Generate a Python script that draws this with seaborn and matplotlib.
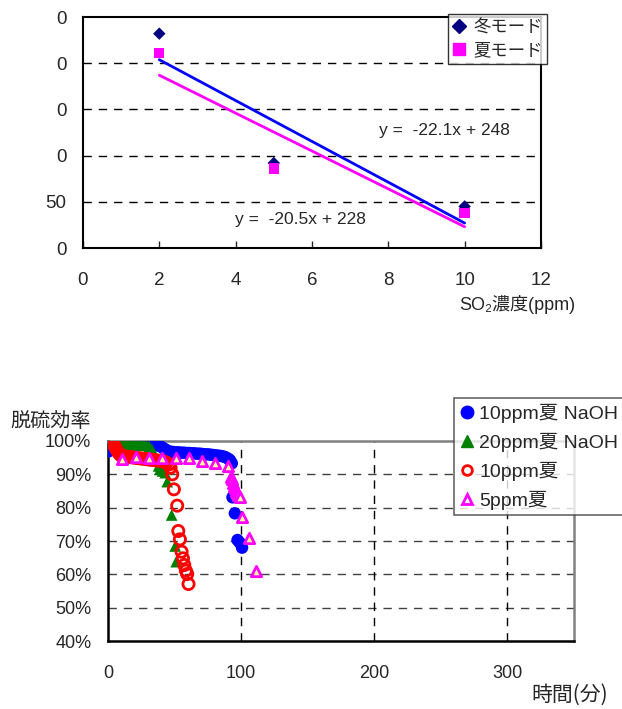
import matplotlib
matplotlib.use("Agg")
import matplotlib.pyplot as plt
from matplotlib.lines import Line2D
import numpy as np
import pandas as pd
import seaborn as sns

# --- upper chart: SO2 concentration vs value ---
so2_ppm = [2, 5, 10]
winter_vals = [232, 92, 45]
summer_vals = [211, 86, 38]
winter_fit = (-22.1, 248)
summer_fit = (-20.5, 228)
fit_range = [2, 10]
upper_yticks = [0, 50, 100, 150, 200, 250]
upper_ylabels = ["0", "50", "0", "0", "0", "0"]
upper_xticks = [0, 2, 4, 6, 8, 10, 12]

# --- lower chart: desulfurization efficiency vs time ---
t_naoh10 = [0, 1, 3, 5, 7, 9, 11, 13, 15, 17, 19, 21, 23, 25, 27, 29, 31, 33, 35,
            37, 39, 41, 43, 45, 47, 49, 51, 53, 55, 57, 59, 61, 63, 65, 67, 69, 71,
            73, 75, 77, 79, 81, 83, 85, 87, 89, 91, 92, 93, 93.5, 95.3, 97.3, 99.0, 100.7]
e_naoh10 = [0.968, 0.998, 0.995, 0.994, 0.993, 0.993, 0.992, 0.992, 0.991, 0.991,
            0.991, 0.990, 0.990, 0.990, 0.990, 0.989, 0.989, 0.989, 0.988, 0.987,
            0.985, 0.980, 0.975, 0.970, 0.968, 0.967, 0.966, 0.966, 0.965, 0.965,
            0.964, 0.964, 0.963, 0.963, 0.962, 0.962, 0.961, 0.960, 0.960, 0.959,
            0.958, 0.957, 0.956, 0.955, 0.953, 0.950, 0.945, 0.940, 0.933, 0.831,
            0.783, 0.703, 0.695, 0.680]

t_naoh20 = [1, 3, 5, 7, 9, 11, 13, 15, 17, 19, 21, 23, 25, 27, 29, 31, 33, 35, 37,
            38, 39, 41, 43, 44.5, 47.8, 50.5, 51.2]
e_naoh20 = [0.995, 0.993, 0.992, 0.991, 0.991, 0.990, 0.990, 0.990, 0.990, 0.989,
            0.989, 0.989, 0.988, 0.988, 0.987, 0.984, 0.975, 0.960, 0.940, 0.925,
            0.915, 0.910, 0.905, 0.878, 0.778, 0.685, 0.638]

t_10ppm = [4, 5, 6, 7, 8, 9, 10, 12, 14, 16, 18, 20, 22, 24, 26, 28, 30, 32, 34, 36,
           38, 40, 42, 44, 46, 47, 48.3, 49.5, 52, 52.8, 54, 55.3, 56.3, 57.3, 58.5,
           59.5, 60.5]
e_10ppm = [0.993, 0.985, 0.977, 0.970, 0.964, 0.960, 0.956, 0.954, 0.953, 0.952,
           0.951, 0.950, 0.949, 0.948, 0.947, 0.946, 0.945, 0.944, 0.943, 0.942,
           0.941, 0.940, 0.938, 0.935, 0.930, 0.920, 0.900, 0.855, 0.806, 0.730,
           0.705, 0.668, 0.648, 0.628, 0.611, 0.601, 0.571]

t_5ppm = [10.7, 21, 31, 40.7, 50.8, 60.7, 70.7, 80.3, 90.5, 92.3, 93, 94, 95, 95.5,
          96.3, 97.2, 98, 99, 100.8, 105.8, 110.8]
e_5ppm = [0.945, 0.951, 0.948, 0.950, 0.948, 0.948, 0.941, 0.935, 0.925, 0.893,
          0.885, 0.873, 0.865, 0.858, 0.850, 0.843, 0.838, 0.833, 0.773, 0.708, 0.611]

lower_yticks = [0.4, 0.5, 0.6, 0.7, 0.8, 0.9, 1.0]
lower_xticks = [0, 100, 200, 300]

sns.set_style("white")
plt.rcParams["font.family"] = ["Liberation Sans", "Noto Sans CJK JP", "DejaVu Sans"]
jp = ["Noto Sans CJK JP", "DejaVu Sans"]

fig = plt.figure(figsize=(6.22, 7.09), dpi=100)

# ---------------- upper ----------------
ax1 = fig.add_axes([0.1334, 0.6502, 0.7363, 0.3258])
sns.scatterplot(x=so2_ppm, y=winter_vals, ax=ax1, marker="D", color="#000080",
                s=40, edgecolor="none", zorder=3)
sns.scatterplot(x=so2_ppm, y=summer_vals, ax=ax1, marker="s", color="#FF00FF",
                s=55, edgecolor="none", zorder=3)
fx = np.array(fit_range)
sns.lineplot(x=fx, y=winter_fit[0] * fx + winter_fit[1], ax=ax1, color="#0000FF", lw=2)
sns.lineplot(x=fx, y=summer_fit[0] * fx + summer_fit[1], ax=ax1, color="#FF00FF", lw=2)

ax1.set_xlim(0, 12)
ax1.set_ylim(0, 250)
ax1.set_xticks(upper_xticks)
ax1.set_yticks(upper_yticks)
ax1.set_yticklabels(upper_ylabels)
for v in upper_yticks[1:-1]:
    ax1.axhline(v, color="black", lw=1, ls=(0, (6, 5)), zorder=1)
for sp in ax1.spines.values():
    sp.set_color("black")
    sp.set_linewidth(1.5)
ax1.tick_params(axis="x", direction="in", length=5, width=1, pad=17, labelsize=13.5, bottom=True)
ax1.tick_params(axis="y", direction="out", length=0, pad=12, labelsize=13.5, left=True)
ax1.text(0.79, 0.51, "y =  -22.1x + 248", transform=ax1.transAxes, fontsize=12.5,
         ha="center", va="center")
ax1.text(0.474, 0.125, "y =  -20.5x + 228", transform=ax1.transAxes, fontsize=12.5,
         ha="center", va="center")
fig.text(0.925, 0.570, "SO\u2082濃度(ppm)", fontsize=13, ha="right", va="center",
         family=["Liberation Sans", "DejaVu Sans", "Noto Sans CJK JP"])

h1 = [Line2D([], [], marker="D", color="#000080", ls="none", markersize=7),
      Line2D([], [], marker="s", color="#FF00FF", ls="none", markersize=8)]
leg1 = fig.legend(h1, ["冬モード", "夏モード"], loc="upper left",
                  bbox_to_anchor=(0.7203, 0.9805), frameon=True,
                  prop={"family": jp, "size": 12.5},
                  fancybox=False, edgecolor="black", handlelength=0.8,
                  handletextpad=0.4, borderpad=0.25, labelspacing=0.3,
                  borderaxespad=0)
leg1.get_frame().set_linewidth(1)

# ---------------- lower ----------------
ax2 = fig.add_axes([0.1736, 0.0959, 0.7492, 0.2821])
for v in lower_yticks[1:-1]:
    ax2.axhline(v, color="#404040", lw=1, ls=(0, (6, 5)), zorder=1)
for v in lower_xticks[1:]:
    ax2.axvline(v, color="black", lw=1, ls=(0, (6, 5)), zorder=1)

sns.scatterplot(x=t_naoh10, y=e_naoh10, ax=ax2, marker="o", color="#0000FF",
                s=80, edgecolor="none", zorder=3)
sns.scatterplot(x=t_naoh20, y=e_naoh20, ax=ax2, marker="^", color="#008000",
                s=70, edgecolor="none", zorder=4)
sns.scatterplot(x=t_10ppm, y=e_10ppm, ax=ax2, marker="o", facecolor="none",
                edgecolor="#FF0000", linewidth=2, s=65, zorder=5)
sns.scatterplot(x=t_5ppm, y=e_5ppm, ax=ax2, marker="^", color="#FFFF99",
                edgecolor="#FF00FF", linewidth=2, s=55, zorder=6)

ax2.set_xlim(0, 350)
ax2.set_ylim(0.4, 1.0)
ax2.set_xticks(lower_xticks)
ax2.set_yticks(lower_yticks)
ax2.set_yticklabels([f"{int(round(v * 100))}%" for v in lower_yticks])
ax2.spines["left"].set_color("black")
ax2.spines["bottom"].set_color("black")
ax2.spines["top"].set_color("#808080")
ax2.spines["right"].set_color("#808080")
for sp in ax2.spines.values():
    sp.set_linewidth(1.8)
ax2.tick_params(axis="both", length=0, labelsize=13)
ax2.tick_params(axis="x", pad=17)
ax2.tick_params(axis="y", pad=12)
fig.text(0.017, 0.405, "脱硫効率", fontsize=14.5, ha="left", va="center", family=jp)
fig.text(0.977, 0.020, "時間(分)", fontsize=15, ha="right", va="center", family=jp)

h2 = [Line2D([], [], marker="o", color="#0000FF", ls="none", markersize=9),
      Line2D([], [], marker="^", color="#008000", ls="none", markersize=9),
      Line2D([], [], marker="o", markerfacecolor="none", markeredgecolor="#FF0000",
             markeredgewidth=2, ls="none", markersize=7),
      Line2D([], [], marker="^", markerfacecolor="white", markeredgecolor="#FF00FF",
             markeredgewidth=2, ls="none", markersize=6.5)]
leg2 = fig.legend(h2, ["10ppm夏 NaOH", "20ppm夏 NaOH", "10ppm夏", "5ppm夏"],
                  loc="upper left", bbox_to_anchor=(0.73, 0.4386), fontsize=14,
                  frameon=True, fancybox=False, edgecolor="#404040",
                  handlelength=0.7, handletextpad=0.3, borderpad=0.3,
                  labelspacing=0.5, borderaxespad=0)
leg2.get_frame().set_linewidth(1.2)

fig.savefig("out.png", dpi=100, facecolor="white")
